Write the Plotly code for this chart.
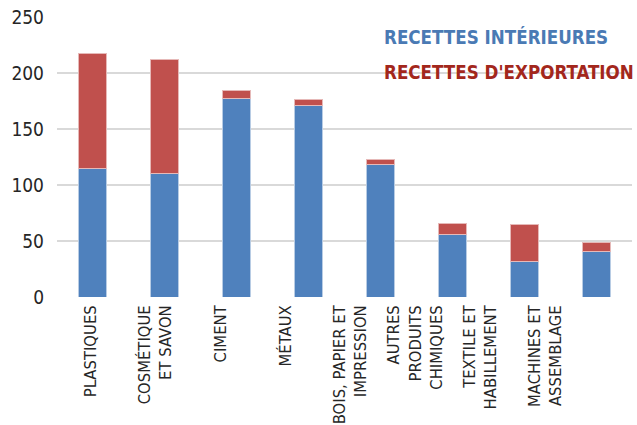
import plotly.graph_objects as go

categories = ["PLASTIQUES", "COSMÉTIQUE<br>ET SAVON", "CIMENT", "MÉTAUX",
              "BOIS, PAPIER ET<br>IMPRESSION", "AUTRES<br>PRODUITS<br>CHIMIQUES",
              "TEXTILE ET<br>HABILLEMENT", "MACHINES ET<br>ASSEMBLAGE"]
interieures = [115, 110, 177, 171, 118, 56, 32, 41]
exportation = [102, 102, 7, 5, 5, 10, 33, 8]
y_ticks = [0, 50, 100, 150, 200, 250]
positions = list(range(len(categories)))

FONT = "DejaVu Sans Condensed, Liberation Sans Narrow, sans-serif"
BLUE = "#4f81bd"
RED = "#c0504d"

fig = go.Figure()
fig.add_trace(go.Bar(x=positions, y=interieures, name="RECETTES INTÉRIEURES",
                     marker=dict(color=BLUE, line=dict(color="#b8cce4", width=1)), width=0.39))
fig.add_trace(go.Bar(x=positions, y=exportation, name="RECETTES D'EXPORTATION",
                     marker=dict(color=RED, line=dict(color="#e6b9b8", width=1)), width=0.39))
# helper trace carrying the category labels axis
fig.add_trace(go.Scatter(x=positions, y=[0] * len(positions), mode="none", xaxis="x2",
                         showlegend=False, hoverinfo="skip"))

fig.update_layout(
    barmode="stack",
    width=637, height=425,
    margin=dict(l=57, r=5, t=17, b=128, autoexpand=False),
    paper_bgcolor="white", plot_bgcolor="white",
    showlegend=False,
    font=dict(family=FONT, color="#262626"),
    xaxis=dict(range=[-0.5, 7.5], showticklabels=False, showgrid=False, zeroline=False,
               showline=False, ticks="", automargin=False),
    xaxis2=dict(overlaying="x", anchor="y", side="bottom", automargin=False,
                range=[-0.512, 8.336], tickmode="array", tickvals=positions,
                ticktext=categories, tickangle=-90, showgrid=False, zeroline=False,
                showline=False, ticks="", ticklabelstandoff=4,
                tickfont=dict(size=16.5, family=FONT, color="#262626")),
    yaxis=dict(range=[0, 250], tickvals=y_ticks, showgrid=True, gridcolor="#d9d9d9",
               gridwidth=1.5, zeroline=False, showline=False, ticks="", automargin=False,
               ticklabelstandoff=12, tickfont=dict(size=19, family=FONT, color="#262626")),
)

fig.add_annotation(text="<b>RECETTES INTÉRIEURES</b>", xref="paper", yref="paper",
                   x=(382 - 57) / 575, y=(297 - 37) / 280, xanchor="left", yanchor="middle",
                   showarrow=False, font=dict(size=18.6, family=FONT, color="#4a7ab4"))
fig.add_annotation(text="<b>RECETTES D'EXPORTATION</b>", xref="paper", yref="paper",
                   x=(382 - 57) / 575, y=(297 - 73) / 280, xanchor="left", yanchor="middle",
                   showarrow=False, font=dict(size=18.6, family=FONT, color="#a3271c"))

fig.write_html("out.html", config={"displayModeBar": False},
               post_script="document.body.style.margin='0';")
